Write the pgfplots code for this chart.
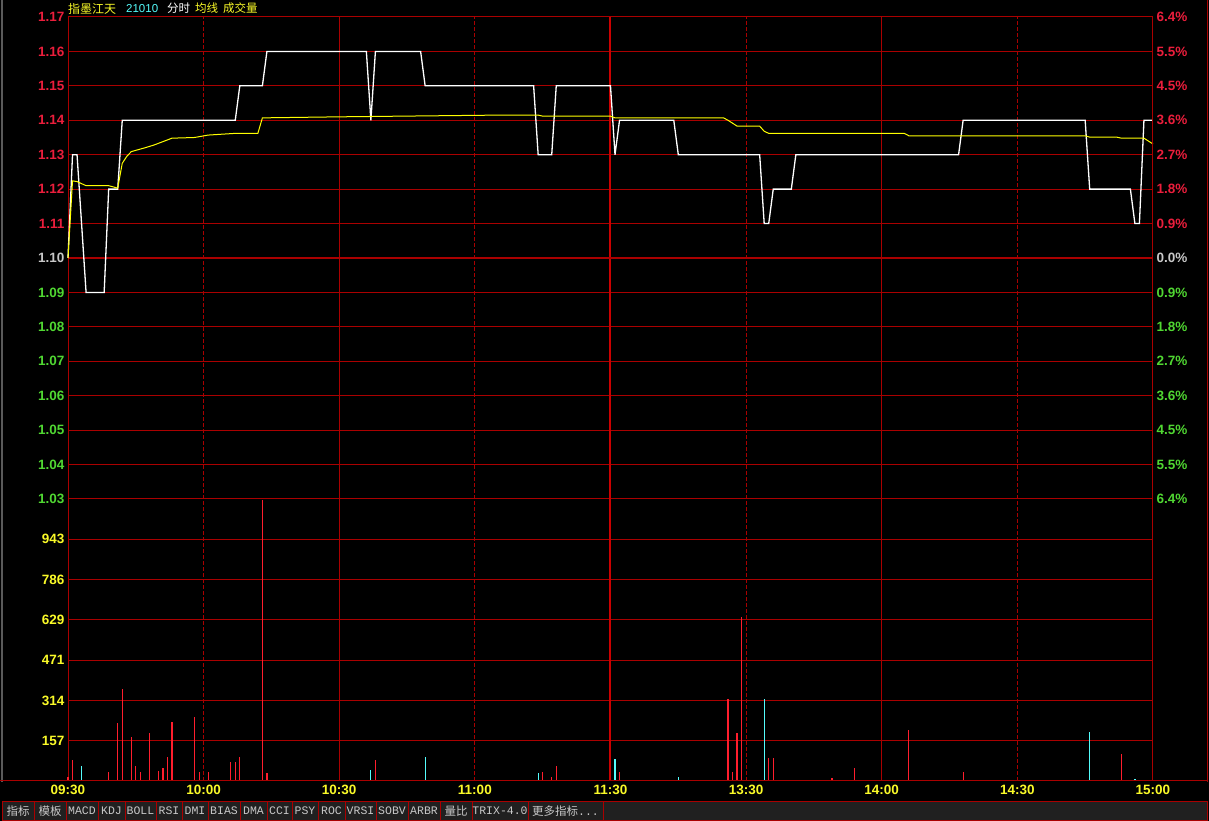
\documentclass[border=0pt]{standalone}
\usepackage{pgfplots}
\pgfplotsset{compat=1.18}
\usepackage{fontspec}
\setmainfont{Liberation Sans}
\newfontfamily\cjk{Noto Sans CJK SC}
\newfontfamily\monof{Liberation Mono}
\definecolor{gridred}{RGB}{170,0,0}
\definecolor{lblred}{RGB}{235,30,60}
\definecolor{lblgreen}{RGB}{80,215,50}
\definecolor{lblgray}{RGB}{200,200,200}
\definecolor{lblyellow}{RGB}{250,250,40}
\definecolor{barred}{RGB}{255,30,45}
\definecolor{barcyan}{RGB}{84,252,252}
\definecolor{avgyellow}{RGB}{255,255,0}
\definecolor{btngray}{RGB}{32,32,32}
\definecolor{btntext}{RGB}{200,200,200}
\definecolor{edgegray}{RGB}{90,90,90}
\newcommand{\tickfont}{\fontsize{13.5}{14}\bfseries\selectfont}
\newcommand{\threedots}{\monof ...}
\pgfplotsset{
  panel/.style={scale only axis, width=1085pt, anchor=south west, xmin=0, xmax=240,
    axis line style={gridred, line width=1pt}, major tick length=0pt, minor tick length=0pt,
    major grid style={gridred, line width=1pt}, clip=false},
}
\begin{document}
\begin{tikzpicture}[x=1pt,y=1pt]
\useasboundingbox (0,0) rectangle (1209,821);
\fill[black] (0,0) rectangle (1209,821);
% frame lines
\draw[edgegray, line width=2pt] (1.5,39) -- (1.5,821);
\draw[gridred, line width=1pt] (1207.5,39) -- (1207.5,821);
% toolbar
\fill[btngray] (2,0) rectangle (1207,19.5);
\draw[gridred, line width=0.8pt] (2,0.5) rectangle (1207,19.5);
\foreach \a/\b/\t in {2/34/{\cjk 指标},34/66/{\cjk 模板},66/98/MACD,98/125/KDJ,125/156/BOLL,156/182/RSI,182/208/DMI,208/240/BIAS,240/267/DMA,267/292/CCI,292/318/PSY,318/345/ROC,345/376/VRSI,376/408/SOBV,408/440/ARBR,440/472/{\cjk 量比},472/528/TRIX-4.0}{
  \draw[gridred, line width=0.8pt] (\a,0.5) rectangle (\b,19.5);
  \node[text=btntext, font=\monof\fontsize{11.5}{12}\selectfont, inner sep=0] at ({(\a+\b)/2},10) {\t};
}
\draw[gridred, line width=0.8pt] (528,0.5) rectangle (603,19.5);
\node[text=btntext, font=\monof\fontsize{11.5}{12}\selectfont, inner sep=0] at (565.5,10) {{\cjk 更多指标}\threedots};
% title
\node[anchor=west, text=lblyellow, font=\cjk\fontsize{12}{12}\selectfont, inner sep=0] at (68,812.5) {指墨江天};
\node[anchor=west, text=barcyan, font=\fontsize{11.5}{12}\selectfont, inner sep=0] at (126,812.5) {21010};
\node[anchor=west, text=white, font=\cjk\fontsize{11.5}{12}\selectfont, inner sep=0] at (167,812.5) {分时};
\node[anchor=west, text=lblyellow, font=\cjk\fontsize{11.5}{12}\selectfont, inner sep=0] at (195,812.5) {均线};
\node[anchor=west, text=lblyellow, font=\cjk\fontsize{11.5}{12}\selectfont, inner sep=0] at (223,812.5) {成交量};

% ---------------- volume panel ----------------
\begin{axis}[panel, height=282pt, at={(68pt,40pt)}, ymin=0, ymax=1100,
  xtick={0,30,60,90,120,150,180,210,240},
  xticklabels={09:30,10:00,10:30,11:00,11:30,13:30,14:00,14:30,15:00},
  xticklabel style={font=\tickfont, text=lblyellow, yshift=-1pt},
  ytick={157.14,314.29,471.43,628.57,785.71,942.86},
  yticklabels={157,314,471,629,786,943},
  yticklabel style={font=\tickfont, text=lblyellow},
  ymajorgrids]
\draw[gridred, line width=1pt, dash pattern=on 4pt off 2pt] (axis cs:30,0) -- (axis cs:30,1100);
\draw[gridred, line width=1pt, dash pattern=on 4pt off 2pt] (axis cs:90,0) -- (axis cs:90,1100);
\draw[gridred, line width=1pt, dash pattern=on 4pt off 2pt] (axis cs:150,0) -- (axis cs:150,1100);
\draw[gridred, line width=1pt, dash pattern=on 4pt off 2pt] (axis cs:210,0) -- (axis cs:210,1100);
\draw[gridred, line width=1pt] (axis cs:60,0) -- (axis cs:60,1100);
\draw[gridred, line width=1pt] (axis cs:180,0) -- (axis cs:180,1100);
\draw[red!80!black, line width=2pt] (axis cs:120,0) -- (axis cs:120,1100);
\addplot[ycomb, barred, line width=1.2pt] coordinates {
(0,17)(1,82)(9,36)(11,225)(12,359)(14,171)(15,60)(16,36)(18,189)(20,40)(21,49)(22,92)(23,232)
(28,251)(29,36)(31,36)(36,74)(37,74)(38,92)(43,1095)(44,33)(68,80)(105,37)(107,14)(108,59)
(122,37)(146,320)(147,37)(148,189)(149,639)(155,88)(156,88)(161,3)(169,10)(174,52)(186,199)
(198,36)(233,105)};
\addplot[ycomb, barcyan, line width=1.2pt] coordinates {
(3,60)(67,43)(79,95)(104,33)(121,86)(135,14)(154,320)(226,193)(236,8)};
\end{axis}
\draw[gridred, line width=1pt] (0,40) -- (1207.5,40);

% ---------------- price panel ----------------
\begin{axis}[panel, height=482pt, at={(68pt,322pt)}, ymin=1.03, ymax=1.17,
  xtick=\empty,
  ytick={1.03,1.04,1.05,1.06,1.07,1.08,1.09,1.10,1.11,1.12,1.13,1.14,1.15,1.16,1.17},
  yticklabels={\textcolor{lblgreen}{1.03},\textcolor{lblgreen}{1.04},\textcolor{lblgreen}{1.05},\textcolor{lblgreen}{1.06},\textcolor{lblgreen}{1.07},\textcolor{lblgreen}{1.08},\textcolor{lblgreen}{1.09},\textcolor{lblgray}{1.10},\textcolor{lblred}{1.11},\textcolor{lblred}{1.12},\textcolor{lblred}{1.13},\textcolor{lblred}{1.14},\textcolor{lblred}{1.15},\textcolor{lblred}{1.16},\textcolor{lblred}{1.17}},
  yticklabel style={font=\tickfont},
  ymajorgrids]
\draw[gridred, line width=1pt, dash pattern=on 4pt off 2pt] (axis cs:30,1.03) -- (axis cs:30,1.17);
\draw[gridred, line width=1pt, dash pattern=on 4pt off 2pt] (axis cs:90,1.03) -- (axis cs:90,1.17);
\draw[gridred, line width=1pt, dash pattern=on 4pt off 2pt] (axis cs:150,1.03) -- (axis cs:150,1.17);
\draw[gridred, line width=1pt, dash pattern=on 4pt off 2pt] (axis cs:210,1.03) -- (axis cs:210,1.17);
\draw[gridred, line width=1pt] (axis cs:60,1.03) -- (axis cs:60,1.17);
\draw[gridred, line width=1pt] (axis cs:180,1.03) -- (axis cs:180,1.17);
\draw[red!80!black, line width=2pt] (axis cs:120,1.03) -- (axis cs:120,1.17);
\draw[gridred, line width=2pt] (axis cs:0,1.10) -- (axis cs:240,1.10);
\addplot[white, line width=1.3pt] coordinates {
(0,1.10)(1,1.13)(2,1.13)(4,1.09)(8,1.09)(9,1.12)(11,1.12)(12,1.14)(37,1.14)(38,1.15)(43,1.15)
(44,1.16)(66,1.16)(67,1.14)(68,1.16)(78,1.16)(79,1.15)(103,1.15)(104,1.13)(107,1.13)(108,1.15)
(120,1.15)(121,1.13)(122,1.14)(134,1.14)(135,1.13)(153,1.13)(154,1.11)(155,1.11)(156,1.12)
(160,1.12)(161,1.13)(197,1.13)(198,1.14)(225,1.14)(226,1.12)(235,1.12)(236,1.11)(237,1.11)
(238,1.14)(240,1.14)};
\addplot[avgyellow, line width=1pt] coordinates {
(0,1.10)(1,1.1224)(2,1.1222)(4,1.121)(9,1.121)(11,1.1203)(12,1.1275)(13,1.1295)(14,1.1309)
(17,1.132)(19,1.1328)(23,1.1348)(28,1.135)(31,1.1357)(37,1.1362)(42,1.1362)(43,1.1407)
(60,1.141)(95,1.1415)(104,1.1415)(105,1.1412)(120,1.1412)(121,1.1407)(145,1.1407)(146,1.140)
(148,1.1383)(153,1.1383)(154,1.1368)(155,1.1362)(185,1.1362)(186,1.1355)(225,1.1355)
(226,1.1351)(232,1.1351)(233,1.1348)(238,1.1348)(240,1.1331)};
\end{axis}

% right percentage labels
\begin{axis}[panel, height=482pt, at={(68pt,322pt)}, ymin=1.03, ymax=1.17,
  axis x line=none, axis y line*=right,
  ytick={1.03,1.04,1.05,1.06,1.07,1.08,1.09,1.10,1.11,1.12,1.13,1.14,1.15,1.16,1.17},
  yticklabels={\textcolor{lblgreen}{6.4\%},\textcolor{lblgreen}{5.5\%},\textcolor{lblgreen}{4.5\%},\textcolor{lblgreen}{3.6\%},\textcolor{lblgreen}{2.7\%},\textcolor{lblgreen}{1.8\%},\textcolor{lblgreen}{0.9\%},\textcolor{lblgray}{0.0\%},\textcolor{lblred}{0.9\%},\textcolor{lblred}{1.8\%},\textcolor{lblred}{2.7\%},\textcolor{lblred}{3.6\%},\textcolor{lblred}{4.5\%},\textcolor{lblred}{5.5\%},\textcolor{lblred}{6.4\%}},
  yticklabel style={font=\tickfont, anchor=west}]
\addplot[draw=none] coordinates {(0,1.10)};
\end{axis}
\end{tikzpicture}
\end{document}
